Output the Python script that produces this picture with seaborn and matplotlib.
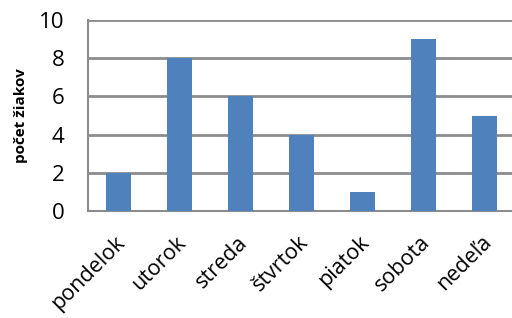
import matplotlib
matplotlib.use("Agg")
import matplotlib.pyplot as plt
import matplotlib.transforms as mtransforms
import seaborn as sns
import pandas as pd

# Data

days = ['pondelok', 'utorok', 'streda', 'štvrtok', 'piatok', 'sobota', 'nedeľa']
pocet = [2, 8, 6, 4, 1, 9, 5]

df = pd.DataFrame({'den': days, 'pocet': pocet})

sns.set_style("white")
plt.rcParams['font.family'] = ['Open Sans', 'DejaVu Sans']
plt.rcParams['text.color'] = 'black'
plt.rcParams['axes.labelcolor'] = 'black'
plt.rcParams['xtick.color'] = 'black'
plt.rcParams['ytick.color'] = 'black'

fig = plt.figure(figsize=(5.12, 3.18), dpi=100)
ax = fig.add_axes([0.172, 0.3365, 0.834, 0.6005])

sns.barplot(data=df, x='den', y='pocet', color='#4F81BD',
            width=0.4, saturation=1, ax=ax, zorder=3,
            edgecolor='#4F81BD', linewidth=0)

ax.set_ylim(0, 10)
ax.set_xlim(-0.5, 6.5)
ax.set_yticks([0, 2, 4, 6, 8, 10])
ax.yaxis.grid(True, color='#8c8c8c', linewidth=2, zorder=0)
ax.set_axisbelow(True)

for s in ['top', 'right']:
    ax.spines[s].set_visible(False)
for s in ['left', 'bottom']:
    ax.spines[s].set_color('#8c8c8c')
    ax.spines[s].set_linewidth(1.5)

ax.tick_params(axis='y', labelsize=16, length=0, pad=17, labelcolor='black')
ax.tick_params(axis='x', labelsize=15.5, length=0, pad=15, labelcolor='black')
offset = mtransforms.ScaledTranslation(-4 / 100, 0, fig.dpi_scale_trans)
for lab in ax.get_xticklabels():
    lab.set_rotation(45)
    lab.set_ha('right')
    lab.set_rotation_mode('anchor')
    lab.set_transform(lab.get_transform() + offset)

ax.set_xlabel('')
ax.set_ylabel('počet žiakov', fontsize=11, fontweight='bold', labelpad=8,
              color='black')

fig.savefig('out.png', dpi=100)
